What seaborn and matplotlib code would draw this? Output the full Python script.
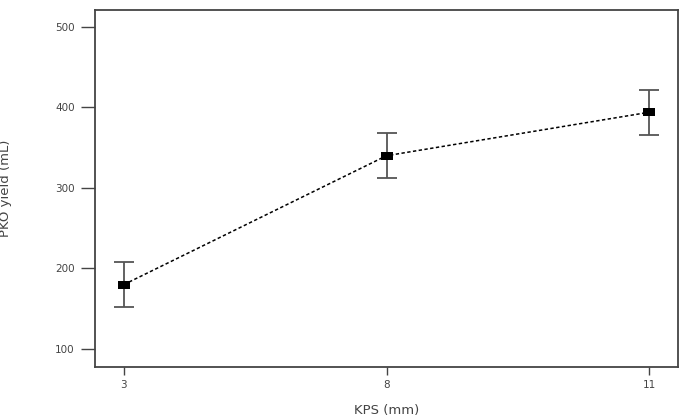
import matplotlib
matplotlib.use("Agg")
import matplotlib.pyplot as plt
import seaborn as sns
import numpy as np
import pandas as pd
from matplotlib.path import Path

# Data
kps_labels = ["3", "8", "11"]
yield_mean = [180, 340, 394]
yield_err = [28, 28, 28]
y_ticks = [100, 200, 300, 400, 500]

sns.set_style("white")
plt.rcParams['font.family'] = ['DejaVu Sans']

fig = plt.figure(figsize=(6.86, 4.18), dpi=100)
ax = fig.add_axes([95/686, 1-367/418, 583/686, 357/418])

df = pd.DataFrame({"KPS": kps_labels, "yield": yield_mean})

rect = Path([(-1, -0.6), (1, -0.6), (1, 0.6), (-1, 0.6), (-1, -0.6)],
            [Path.MOVETO, Path.LINETO, Path.LINETO, Path.LINETO, Path.CLOSEPOLY])

sns.pointplot(data=df, x="KPS", y="yield", order=kps_labels, color="black",
              markers=rect, linestyles=(0, (2.2, 1.6)), ax=ax, errorbar=None)
for ln in list(ax.lines):
    ln.set_linewidth(1.1)
    ln.set_markersize(9)
    ln.set_markeredgewidth(0)
    ln.set_zorder(3)

pos = np.arange(len(kps_labels))
ax.errorbar(pos, yield_mean, yerr=yield_err, fmt='none', ecolor='#555555',
            elinewidth=1.3, capsize=7.5, capthick=1.3, zorder=2)

ax.set_xlim(-0.11, 2.11)
ax.set_ylim(77.6, 521)
ax.set_yticks(y_ticks)
ax.set_yticklabels([str(v) for v in y_ticks])

for s in ax.spines.values():
    s.set_color('#444444')
    s.set_linewidth(1.3)

ax.tick_params(axis='y', direction='out', length=10, width=1, color='#444444',
               labelsize=7.5, labelcolor='#444444', pad=4.5, left=True)
ax.tick_params(axis='x', direction='out', length=6, width=1, color='#444444',
               labelsize=7.5, labelcolor='#444444', pad=3.5, bottom=True)

ax.set_xlabel("KPS (mm)", fontsize=9.5, color='#444444', labelpad=10)
ax.set_ylabel("PKO yield (mL)", fontsize=9.5, color='#444444')
ax.yaxis.set_label_coords(-0.142, 0.5)

fig.savefig("out.png", dpi=100)
